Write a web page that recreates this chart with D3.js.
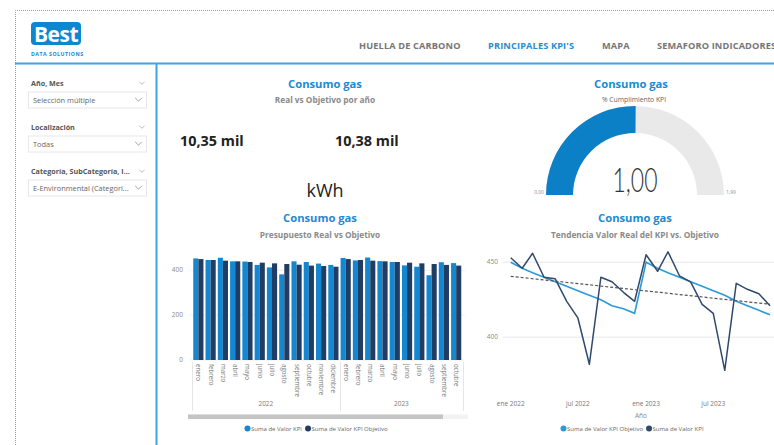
<!DOCTYPE html>
<html><head><meta charset="utf-8">
<script src="https://cdn.jsdelivr.net/npm/d3@7"></script>
<style>
body{margin:0;background:#fff;}
svg{display:block;font-family:"Open Sans","Noto Sans",sans-serif;}
</style>
</head><body>
<svg id="c" width="774" height="445"></svg>
<script>
// ---------- DATA ----------
const monthNames = ["enero","febrero","marzo","abril","mayo","junio","julio","agosto","septiembre","octubre","noviembre","diciembre"];
const monthAbbr = ["ene","feb","mar","abr","may","jun","jul","ago","sep","oct","nov","dic"];
const years = [2022, 2023];
const realValues = [453,446,456,440,439,424,413,382,440,437,430,424, 455,444,457,441,437,422,416,378,436,432,429,421];
const objectiveValues = [450,446,443,440,437,434,431,428,425,421,419,416, 450,446,443,440,437,434,431,428,424,421,418,415];
const barVisibleMonths = 22;
const barTicks = [0,200,400];
const lineTicks = [400,450];
const gaugeMin = 0, gaugeMax = 1.99, gaugeValue = 1.00;
const navTabs = ["HUELLA DE CARBONO","PRINCIPALES KPI'S","MAPA","SEMAFORO INDICADORES"];
const activeTab = "PRINCIPALES KPI'S";
const slicerLabels = ["Año, Mes","Localización","Categoría, SubCategoría, I..."];
const slicerValues = ["Selección múltiple","Todas","E-Environmental (Categori..."];
const barSeries = ["Suma de Valor KPI","Suma de Valor KPI Objetivo"];
const lineSeries = ["Suma de Valor KPI Objetivo","Suma de Valor KPI"];
const unitLabel = "kWh";

// ---------- STYLE ----------
const COL = {title:"#1a8ad4", sub:"#8a8a8a", real:"#1487d2", obj:"#223d63",
  lineObj:"#2a9bd9", lineReal:"#2f4a6d", trend:"#555", accent:"#3ea3e0",
  axis:"#8a8a8a", grid:"#efefef", gauge:"#0b80c6", gaugeBg:"#e9e9e9"};

const svg = d3.select("#c");

const records = realValues.map((v,i)=>({
  date:new Date(years[0] + Math.floor(i/12), i%12, 1),
  month:monthNames[i%12], year:years[0]+Math.floor(i/12),
  real:v, obj:objectiveValues[i], i
}));

// ---------- FRAME ----------
svg.append("path").attr("d","M15.5,445 V10.5 H774")
  .attr("fill","none").attr("stroke","#9a9a9a").attr("stroke-dasharray","1,1");

svg.append("rect").attr("x",31).attr("y",22).attr("width",50).attr("height",23).attr("rx",4).attr("fill","#0e87d0");
svg.append("text").attr("x",56).attr("y",42).attr("text-anchor","middle").attr("fill","#fff")
  .attr("font-size",21).attr("font-weight",700).attr("letter-spacing",-0.5).text("Best");
svg.append("text").attr("x",31).attr("y",56).attr("fill","#0e87d0").attr("font-size",5.2)
  .attr("font-weight",700).attr("textLength",52).text("DATA SOLUTIONS");

const navX = [359,488,602,657];
navTabs.forEach((t,i)=>{
  svg.append("text").attr("x",navX[i]).attr("y",49).attr("font-size",9.2).attr("font-weight",700)
    .attr("fill", t===activeTab ? "#2a8ccf" : "#767676").attr("letter-spacing",0.15).text(t);
});

svg.append("line").attr("x1",15).attr("x2",774).attr("y1",63.5).attr("y2",63.5).attr("stroke",COL.accent).attr("stroke-width",2);
svg.append("line").attr("x1",156.5).attr("x2",156.5).attr("y1",63).attr("y2",445).attr("stroke",COL.accent).attr("stroke-width",2);

function chevron(g,x,y,s,c){
  g.append("path").attr("d",`M${x-s},${y-s/2} L${x},${y+s/2} L${x+s},${y-s/2}`)
   .attr("fill","none").attr("stroke",c).attr("stroke-width",0.8);
}
slicerLabels.forEach((lab,i)=>{
  const y0 = 86 + i*44;
  svg.append("text").attr("x",31).attr("y",y0).attr("font-size",7.2).attr("font-weight",700).attr("fill","#555").text(lab);
  chevron(svg,142,y0-3,2.6,"#aaa");
  svg.append("rect").attr("x",28.5).attr("y",y0+6).attr("width",118).attr("height",16)
    .attr("fill","#fff").attr("stroke","#e8e8e8");
  svg.append("text").attr("x",33).attr("y",y0+17).attr("font-size",7.4).attr("fill","#666").text(slicerValues[i]);
  chevron(svg,138.5,y0+13.5,3.3,"#888");
});

// ---------- KPI CARD ----------
const fmtMil = v => d3.format(".2f")(v/1000).replace(".",",") + " mil";
function titles(cx, title, sub, subSize, subWeight){
  svg.append("text").attr("x",cx).attr("y",title.y).attr("text-anchor","middle").attr("font-size",11.2).attr("font-weight",700).attr("fill",COL.title).text(title.t);
  svg.append("text").attr("x",cx).attr("y",sub.y).attr("text-anchor","middle").attr("font-size",subSize).attr("font-weight",subWeight).attr("fill",COL.sub).text(sub.t);
}
titles(325,{t:"Consumo gas",y:88},{t:"Real vs Objetivo por año",y:103},8.3,700);
svg.append("text").attr("x",180).attr("y",146).attr("font-size",14.4).attr("font-weight",700).attr("fill","#222").text(fmtMil(d3.sum(realValues)));
svg.append("text").attr("x",335).attr("y",146).attr("font-size",14.4).attr("font-weight",700).attr("fill","#222").text(fmtMil(d3.sum(objectiveValues)));
svg.append("text").attr("x",325).attr("y",197).attr("text-anchor","middle").attr("font-size",18).attr("fill","#222").text(unitLabel);

// ---------- GAUGE ----------
const gcx = 635, gcy = 195;
const ga = d3.scaleLinear().domain([gaugeMin,gaugeMax]).range([-Math.PI/2, Math.PI/2]);
const garc = d3.arc().innerRadius(62).outerRadius(89);
const gg = svg.append("g").attr("transform",`translate(${gcx},${gcy})`);
gg.append("path").attr("d",garc({startAngle:ga(gaugeMin),endAngle:ga(gaugeMax)})).attr("fill",COL.gaugeBg);
gg.append("path").attr("d",garc({startAngle:ga(gaugeMin),endAngle:ga(gaugeValue)})).attr("fill",COL.gauge);
const fmt2 = v => d3.format(".2f")(v).replace(".",",");
gg.append("text").attr("x",-22.5).attr("y",-3).attr("font-family","Lato, 'Open Sans', sans-serif")
  .attr("font-size",34).attr("font-weight",300).attr("fill","#333")
  .attr("textLength",45).attr("lengthAdjust","spacingAndGlyphs").text(fmt2(gaugeValue));
gg.append("text").attr("x",-96).attr("y",-1).attr("text-anchor","middle").attr("font-size",4.8).attr("fill","#888").text(fmt2(gaugeMin));
gg.append("text").attr("x",96).attr("y",-1).attr("text-anchor","middle").attr("font-size",4.8).attr("fill","#888").text(fmt2(gaugeMax));
svg.append("text").attr("x",631).attr("y",88).attr("text-anchor","middle").attr("font-size",11.2).attr("font-weight",700).attr("fill",COL.title).text("Consumo gas");
svg.append("text").attr("x",634).attr("y",102).attr("text-anchor","middle").attr("font-size",6.8).attr("fill","#666").text("% Cumplimiento KPI");

// ---------- BAR CHART ----------
titles(320,{t:"Consumo gas",y:222},{t:"Presupuesto Real vs Objetivo",y:238},8.3,700);

const barData = records.slice(0, barVisibleMonths);
const bx = d3.scaleBand().domain(barData.map(d=>d.i)).range([193,461.5]).paddingInner(0.17).paddingOuter(0.02);
const bsub = d3.scaleBand().domain(["real","obj"]).range([0,bx.bandwidth()]);
const by = d3.scaleLinear().domain([0,400]).range([360,270.3]);

const bg = svg.append("g");
bg.selectAll("line.grid").data(barTicks).join("line")
  .attr("x1",190).attr("x2",465).attr("y1",d=>by(d)).attr("y2",d=>by(d))
  .attr("stroke",COL.grid).attr("stroke-width",1);
bg.selectAll("text.yt").data(barTicks).join("text")
  .attr("x",183).attr("y",d=>by(d)+2).attr("text-anchor","end").attr("font-size",6.5).attr("fill",COL.axis).text(d=>d);

const grp = bg.selectAll("g.m").data(barData).join("g").attr("transform",d=>`translate(${bx(d.i)},0)`);
grp.append("rect").attr("x",bsub("real")).attr("width",bsub.bandwidth()).attr("y",d=>by(d.real)).attr("height",d=>by(0)-by(d.real)).attr("fill",COL.real);
grp.append("rect").attr("x",bsub("obj")).attr("width",bsub.bandwidth()).attr("y",d=>by(d.obj)).attr("height",d=>by(0)-by(d.obj)).attr("fill",COL.obj);
grp.append("text").attr("transform",`translate(${bx.bandwidth()/2-2},364) rotate(90)`)
  .attr("font-size",6.2).attr("fill","#7a7a7a").text(d=>d.month);

const yearGroups = d3.groups(barData, d=>d.year);
const edges = [];
yearGroups.forEach(([yr, arr],k)=>{
  const first = arr[0].i, last = arr[arr.length-1].i;
  const left = k===0 ? bx(first)-1 : (bx(first) + bx(first-1)+bx.bandwidth())/2;
  const right = k===yearGroups.length-1 ? bx(last)+bx.bandwidth()+2 : (bx(last)+bx.bandwidth()+bx(last+1))/2;
  edges.push(left, right);
  bg.append("text").attr("x",(left+right)/2).attr("y",406).attr("text-anchor","middle").attr("font-size",6.5).attr("fill","#7a7a7a").text(yr);
});
Array.from(new Set(edges.map(e=>Math.round(e)))).forEach(x=>{
  bg.append("line").attr("x1",x+0.5).attr("x2",x+0.5).attr("y1",362).attr("y2",411).attr("stroke","#e6e6e6");
});
bg.append("rect").attr("x",188).attr("y",414.5).attr("width",280).attr("height",4.5).attr("fill","#f2f2f2");
bg.append("rect").attr("x",188).attr("y",414.5).attr("width",255).attr("height",4.5).attr("fill","#c4c4c4");

function legend(x, y, items, colors){
  let cx = x;
  items.forEach((t,k)=>{
    svg.append("circle").attr("cx",cx+3).attr("cy",y-2).attr("r",3).attr("fill",colors[k]);
    const tx = svg.append("text").attr("x",cx+6.5).attr("y",y).attr("font-size",6).attr("fill","#666").text(t);
    cx += 6.5 + tx.node().getComputedTextLength() + 3;
  });
}
legend(244.5, 430.5, barSeries, [COL.real, COL.obj]);

// ---------- LINE CHART ----------
titles(635,{t:"Consumo gas",y:222},{t:"Tendencia Valor Real del KPI vs. Objetivo",y:238},8.3,700);

const lx = d3.scaleTime().domain(d3.extent(records,d=>d.date)).range([510.7,770]);
const ly = d3.scaleLinear().domain([400,450]).range([337.3,262.3]);
const lg = svg.append("g");
lg.selectAll("line.grid").data(lineTicks).join("line")
  .attr("x1",503).attr("x2",774).attr("y1",d=>ly(d)).attr("y2",d=>ly(d))
  .attr("stroke",COL.grid).attr("stroke-width",1.5);
lg.selectAll("text.yt").data(lineTicks).join("text")
  .attr("x",498).attr("y",d=>ly(d)+2).attr("text-anchor","end").attr("font-size",6.5).attr("fill",COL.axis).text(d=>d);
const xt = d3.timeMonth.every(6).range(records[0].date, d3.timeMonth.offset(records[records.length-1].date,1));
lg.selectAll("text.xt").data(xt).join("text")
  .attr("x",d=>lx(d)).attr("y",406).attr("text-anchor","middle").attr("font-size",6.5).attr("fill","#777")
  .text(d=>monthAbbr[d.getMonth()]+" "+d.getFullYear());
lg.append("text").attr("x",641).attr("y",418).attr("text-anchor","middle").attr("font-size",6.5).attr("fill","#888").text("Año");

const lineGen = key => d3.line().x(d=>lx(d.date)).y(d=>ly(d[key]));
lg.append("path").datum(records).attr("d",lineGen("obj")).attr("fill","none").attr("stroke",COL.lineObj).attr("stroke-width",1.6);
lg.append("path").datum(records).attr("d",lineGen("real")).attr("fill","none").attr("stroke",COL.lineReal).attr("stroke-width",1.5).attr("stroke-linejoin","round");
const n = records.length, mt = d3.mean(records,d=>d.i), mv = d3.mean(records,d=>d.real);
const slope = d3.sum(records,d=>(d.i-mt)*(d.real-mv)) / d3.sum(records,d=>(d.i-mt)*(d.i-mt));
const trend = [records[0], records[n-1]].map(d=>({date:d.date, v:mv + slope*(d.i-mt)}));
lg.append("path").datum(trend).attr("d",d3.line().x(d=>lx(d.date)).y(d=>ly(d.v)))
  .attr("fill","none").attr("stroke",COL.trend).attr("stroke-width",1.2).attr("stroke-dasharray","3,2");

legend(560.5, 430.5, lineSeries, [COL.lineObj, COL.lineReal]);
</script>
</body></html>
